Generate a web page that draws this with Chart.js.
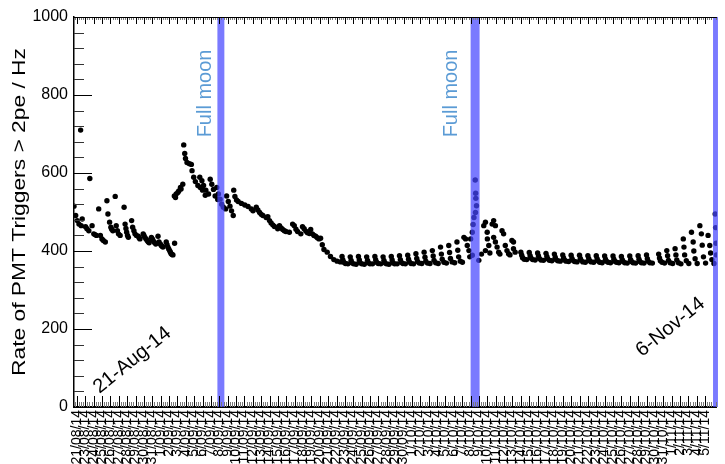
<!DOCTYPE html>
<html>
<head>
<meta charset="utf-8">
<script src="https://cdn.jsdelivr.net/npm/chart.js@4.4.1/dist/chart.umd.min.js"></script>
<style>
  html, body { margin: 0; padding: 0; background: #fff; }
</style>
</head>
<body>
<canvas id="chart" width="725" height="464"></canvas>
<script>
// tick labels of the time axis (one per division)
const dayLabels = [
  '21/08/14', '23/08/14', '24/08/14', '25/08/14', '26/08/14', '27/08/14', '28/08/14', '29/08/14', '30/08/14', '31/08/14',
  '1/09/14', '2/09/14', '3/09/14', '4/09/14', '5/09/14', '6/09/14', '7/09/14', '8/09/14', '9/09/14', '10/09/14',
  '11/09/14', '12/09/14', '13/09/14', '14/09/14', '15/09/14', '16/09/14', '17/09/14', '18/09/14', '19/09/14', '20/09/14',
  '21/09/14', '22/09/14', '23/09/14', '24/09/14', '25/09/14', '26/09/14', '27/09/14', '28/09/14', '29/09/14', '30/09/14',
  '1/10/14', '2/10/14', '3/10/14', '4/10/14', '5/10/14', '6/10/14', '7/10/14', '8/10/14', '9/10/14', '10/10/14',
  '11/10/14', '12/10/14', '13/10/14', '14/10/14', '15/10/14', '16/10/14', '17/10/14', '18/10/14', '19/10/14', '20/10/14',
  '21/10/14', '22/10/14', '23/10/14', '24/10/14', '25/10/14', '26/10/14', '27/10/14', '28/10/14', '29/10/14', '30/10/14',
  '31/10/14', '1/11/14', '2/11/14', '3/11/14', '4/11/14', '5/11/14'
];

// full moon periods (in axis divisions)
const moonStart = [16.77, 47.0, 75.94];
const moonEnd = [17.6, 48.07, 76.6];

// [time, rate in Hz]
const augRuns = [
  [-0.35, 515], [-0.15, 491], [0.04, 478], [0.24, 469], [0.44, 710], [0.51, 465], [0.63, 482],
  [1.03, 462], [1.2, 457], [1.42, 452], [1.54, 586], [1.81, 465], [2.01, 444], [2.15, 442], [2.33, 440],
  [2.6, 508], [2.8, 440], [2.99, 431], [3.15, 427], [3.39, 423], [3.58, 529], [3.7, 495],
  [3.9, 474], [4.05, 461], [4.15, 456], [4.29, 452], [4.57, 540], [4.69, 465], [4.83, 452], [4.96, 444],
  [5.16, 440], [5.63, 512], [5.75, 469], [5.85, 458], [5.94, 448], [6.04, 440], [6.14, 435],
  [6.53, 478], [6.65, 461], [6.8, 452], [6.93, 444], [7.1, 440], [7.32, 438], [7.42, 434], [7.52, 431],
  [7.91, 444], [8.0, 440], [8.11, 435], [8.25, 431], [8.39, 427], [8.5, 424], [8.62, 421],
  [8.89, 435], [9.0, 431], [9.09, 427], [9.25, 422], [9.41, 418], [9.68, 438], [9.8, 423],
  [9.95, 418], [10.07, 414], [10.17, 412], [10.27, 410], [10.66, 423], [10.76, 416], [10.86, 410],
  [10.96, 405], [11.07, 401], [11.16, 397], [11.25, 393], [11.36, 391], [11.46, 390], [11.66, 420]
];

const sepRuns = [
  [11.63, 541], [11.77, 537], [11.85, 546], [12.05, 550], [12.16, 554], [12.36, 563], [12.43, 559], [12.64, 571],
  [12.75, 672], [12.87, 650], [12.96, 637], [13.14, 627], [13.43, 624], [13.66, 622], [13.74, 606], [13.94, 589],
  [14.14, 578], [14.44, 568], [14.73, 563], [15.0, 556], [15.32, 543],
  [14.67, 589], [14.92, 580], [15.12, 568], [15.39, 556], [15.71, 546],
  [15.91, 584], [16.1, 571], [16.3, 558], [16.5, 541], [16.81, 532],
  [16.69, 563], [16.89, 546], [17.09, 533], [17.28, 520], [17.48, 512], [17.75, 508],
  [17.87, 541], [18.07, 527], [18.27, 515], [18.46, 503], [18.66, 491],
  [18.72, 556], [18.86, 540], [19.05, 531], [19.25, 527], [19.64, 522], [20.04, 518], [20.43, 514], [20.82, 508], [21.02, 503],
  [21.41, 512], [21.6, 505], [21.81, 499], [22.0, 494], [22.2, 491], [22.59, 486],
  [22.79, 488], [22.99, 478], [23.18, 472], [23.38, 467], [23.58, 463], [23.97, 457],
  [24.18, 465], [24.38, 459], [24.57, 455], [24.76, 452], [24.95, 450], [25.36, 448],
  [25.75, 469], [25.95, 465], [26.15, 456], [26.34, 450], [26.73, 444],
  [26.93, 462], [27.13, 457], [27.33, 451], [27.52, 447], [27.75, 445],
  [27.91, 455], [28.11, 444], [28.3, 440], [28.5, 438], [28.7, 434], [28.9, 431],
  [29.09, 433], [29.29, 416], [29.49, 404], [29.88, 397], [30.27, 386], [30.67, 378], [31.06, 374], [31.45, 372]
];

const octRuns = [
  [31.65, 386], [31.75, 377], [31.85, 371], [32.05, 368], [32.35, 367],
  [32.63, 385], [32.73, 376], [32.83, 370], [33.03, 367], [33.33, 366],
  [33.61, 386], [33.71, 377], [33.81, 370], [34.01, 367], [34.31, 366],
  [34.59, 385], [34.69, 376], [34.79, 370], [34.99, 367], [35.29, 367],
  [35.57, 386], [35.67, 377], [35.77, 371], [35.97, 368], [36.27, 367],
  [36.55, 385], [36.65, 376], [36.75, 370], [36.95, 367], [37.25, 366],
  [37.53, 386], [37.63, 377], [37.73, 370], [37.93, 367], [38.23, 367],
  [38.51, 388], [38.61, 378], [38.71, 371], [38.91, 368], [39.21, 367],
  [39.49, 389], [39.59, 379], [39.69, 372], [39.89, 368], [40.19, 367],
  [40.47, 393], [40.57, 381], [40.67, 373], [40.87, 369], [41.17, 368],
  [41.45, 397], [41.55, 384], [41.65, 374], [41.85, 369], [42.15, 368],
  [42.43, 401], [42.53, 387], [42.63, 376], [42.83, 370], [43.13, 368],
  [43.41, 410], [43.51, 392], [43.61, 379], [43.81, 371], [44.11, 369],
  [44.39, 414], [44.49, 396], [44.59, 381], [44.79, 372], [45.09, 370],
  [45.37, 423], [45.47, 402], [45.57, 385], [45.77, 374], [46.02, 371],
  [46.2, 435], [46.4, 431], [46.6, 414], [46.8, 401], [46.9, 385],
  [47.0, 431], [47.2, 448], [47.3, 468], [47.4, 486], [47.58, 499], [47.62, 535], [47.6, 548], [47.55, 582],
  [47.7, 516], [47.2, 389], [47.98, 376],
  [48.3, 392], [48.57, 465], [48.77, 474], [48.98, 448], [49.0, 431], [48.77, 401], [49.17, 414],
  [49.3, 395], [49.57, 469], [49.75, 478], [49.96, 465], [49.75, 435], [49.96, 423], [50.16, 410], [50.35, 397],
  [50.5, 392], [50.75, 452], [50.94, 444], [51.14, 414], [51.34, 401], [51.53, 393],
  [51.7, 390], [51.93, 427], [52.12, 423], [52.12, 406], [52.32, 397]
];

const novRuns = [
  [53.0, 397], [53.1, 389], [53.2, 383], [53.4, 379], [53.7, 378],
  [54.0, 396], [54.1, 388], [54.2, 382], [54.4, 378], [54.7, 377],
  [55.0, 395], [55.1, 387], [55.2, 381], [55.4, 377], [55.7, 376],
  [56.0, 394], [56.1, 386], [56.2, 380], [56.4, 376], [56.7, 375],
  [57.0, 392], [57.1, 384], [57.2, 378], [57.4, 375], [57.7, 374],
  [58.0, 390], [58.1, 382], [58.2, 377], [58.4, 374], [58.7, 373],
  [59.0, 389], [59.1, 381], [59.2, 376], [59.4, 373], [59.7, 372],
  [60.0, 389], [60.1, 381], [60.2, 376], [60.4, 372], [60.7, 371],
  [61.0, 388], [61.1, 380], [61.2, 375], [61.4, 372], [61.7, 371],
  [62.0, 388], [62.1, 380], [62.2, 375], [62.4, 371], [62.7, 370],
  [63.0, 387], [63.1, 379], [63.2, 374], [63.4, 371], [63.7, 370],
  [64.0, 387], [64.1, 379], [64.2, 374], [64.4, 371], [64.7, 370],
  [65.0, 386], [65.1, 378], [65.2, 373], [65.4, 370], [65.7, 369],
  [66.0, 387], [66.1, 378], [66.2, 373], [66.4, 370], [66.7, 369],
  [67.0, 388], [67.1, 379], [67.2, 373], [67.4, 370], [67.7, 369],
  [68.0, 390], [68.1, 380], [68.2, 374], [68.4, 370], [68.7, 369],
  [69.45, 392], [69.55, 382], [69.65, 375], [69.85, 371], [70.15, 369],
  [70.42, 401], [70.52, 388], [70.62, 376], [70.82, 370], [71.12, 368],
  [71.41, 406], [71.51, 390], [71.61, 377], [71.81, 370], [72.11, 367],
  [72.39, 431], [72.47, 410], [72.55, 390], [72.75, 375], [73.05, 368],
  [73.37, 448], [73.57, 423], [73.65, 400], [73.8, 380], [74.05, 368],
  [74.37, 465], [74.55, 444], [74.65, 415], [74.8, 385], [75.05, 369],
  [75.35, 440], [75.55, 414], [75.65, 395], [75.8, 378], [76.05, 368],
  [76.2, 495], [76.25, 460], [76.3, 420], [76.35, 390]
];

const yTitle = 'Rate of PMT Triggers > 2pe / Hz';
const moonText = 'Full moon';
// text annotations: [text, x (divisions), y (Hz), angle in degrees, colour]
const notes = [
  [moonText, 15.29, 804, -90, '#5b9bd5'],
  [moonText, 44.76, 804, -90, '#5b9bd5'],
  ['21-Aug-14', 6.61, 120, -39, '#000'],
  ['6-Nov-14', 70.86, 205, -39, '#000']
];

const FONT = "'Liberation Sans', Arial, sans-serif";

const allRuns = [...augRuns, ...sepRuns, ...octRuns, ...novRuns].map(p => ({ x: p[0], y: p[1] }));

// ROOT style frame and inward ticks
const frameTicks = {
  id: 'frameTicks',
  afterDraw(chart) {
    const { ctx, chartArea: a, scales: { x, y } } = chart;
    ctx.save();
    ctx.lineWidth = 1;
    // y axis ticks
    for (let v = 0; v <= 1000; v += 40) {
      const py = Math.round(y.getPixelForValue(v)) + 0.5;
      const major = v % 200 === 0;
      ctx.strokeStyle = major ? '#000' : '#333';
      ctx.beginPath();
      ctx.moveTo(a.left, py);
      ctx.lineTo(a.left + (major ? 18 : 10), py);
      ctx.stroke();
    }
    // x axis minor ticks, bottom and top
    ctx.strokeStyle = '#777';
    for (let k = Math.ceil(x.min * 4); k <= Math.floor(x.max * 4); k++) {
      if (k % 4 === 0) continue;
      const px = Math.round(x.getPixelForValue(k / 4)) + 0.5;
      ctx.beginPath();
      ctx.moveTo(px, a.bottom);
      ctx.lineTo(px, a.bottom - 5);
      ctx.moveTo(px, a.top);
      ctx.lineTo(px, a.top + 3);
      ctx.stroke();
    }
    // x axis major ticks
    ctx.strokeStyle = '#000';
    dayLabels.forEach((_, i) => {
      const px = Math.round(x.getPixelForValue(i)) + 0.5;
      ctx.beginPath();
      ctx.moveTo(px, a.bottom);
      ctx.lineTo(px, a.bottom - 11);
      ctx.moveTo(px, a.top);
      ctx.lineTo(px, a.top + 7);
      ctx.stroke();
    });
    // top border
    ctx.beginPath();
    ctx.moveTo(a.left, a.top + 0.5);
    ctx.lineTo(a.right, a.top + 0.5);
    ctx.stroke();

    // y axis title, stretched along its length like the original
    ctx.fillStyle = '#000';
    ctx.font = '19px ' + FONT;
    ctx.textAlign = 'center';
    ctx.textBaseline = 'middle';
    ctx.translate(20, (a.top + a.bottom) / 2);
    ctx.rotate(-Math.PI / 2);
    ctx.scale(1.2, 1);
    ctx.fillText(yTitle, 0, 0);
    ctx.restore();

    // annotations
    notes.forEach(([text, nx, ny, angle, color]) => {
      ctx.save();
      ctx.fillStyle = color;
      ctx.font = '20px ' + FONT;
      ctx.textAlign = 'center';
      ctx.textBaseline = 'middle';
      ctx.translate(x.getPixelForValue(nx), y.getPixelForValue(ny));
      ctx.rotate(angle * Math.PI / 180);
      ctx.fillText(text, 0, 0);
      ctx.restore();
    });
  }
};

// full moon bands, drawn over the points
const moonBands = {
  id: 'moonBands',
  afterDatasetsDraw(chart) {
    const { ctx, chartArea: a, scales: { x } } = chart;
    ctx.save();
    ctx.fillStyle = 'rgba(70, 70, 255, 0.72)';
    moonStart.forEach((s, i) => {
      const x0 = x.getPixelForValue(s);
      const x1 = Math.min(x.getPixelForValue(moonEnd[i]), a.right + 1);
      ctx.fillRect(x0, a.top, x1 - x0, a.bottom - a.top);
    });
    ctx.restore();
  }
};

new Chart(document.getElementById('chart'), {
  type: 'scatter',
  data: {
    datasets: [{
      data: allRuns,
      pointRadius: 2.7,
      pointBackgroundColor: '#000',
      pointBorderWidth: 0,
      pointHoverRadius: 2.7
    }]
  },
  options: {
    responsive: false,
    devicePixelRatio: 1,
    animation: false,
    layout: { padding: { top: 17, right: 1, left: 0, bottom: 0 } },
    plugins: { legend: { display: false }, tooltip: { enabled: false } },
    scales: {
      x: {
        type: 'linear',
        min: -0.35,
        max: 76.41,
        grid: { display: false, drawTicks: false },
        border: { display: true, color: '#000', width: 2 },
        afterBuildTicks: (s) => { s.ticks = dayLabels.map((_, i) => ({ value: i })); },
        afterFit: (s) => { s.height = 57; },
        ticks: {
          autoSkip: false,
          maxRotation: 90,
          minRotation: 90,
          padding: 3,
          color: '#000',
          font: { family: FONT, size: 14 },
          callback: (v) => dayLabels[v] ?? ''
        }
      },
      y: {
        min: 0,
        max: 1000,
        grid: { display: false, drawTicks: false },
        border: { display: true, color: '#000', width: 1.5 },
        afterFit: (s) => { s.width = 74; },
        ticks: {
          stepSize: 200,
          padding: 6,
          color: '#000',
          font: { family: FONT, size: 16 },
          callback: (v) => String(v)
        }
      }
    }
  },
  plugins: [moonBands, frameTicks]
});
</script>
</body>
</html>
